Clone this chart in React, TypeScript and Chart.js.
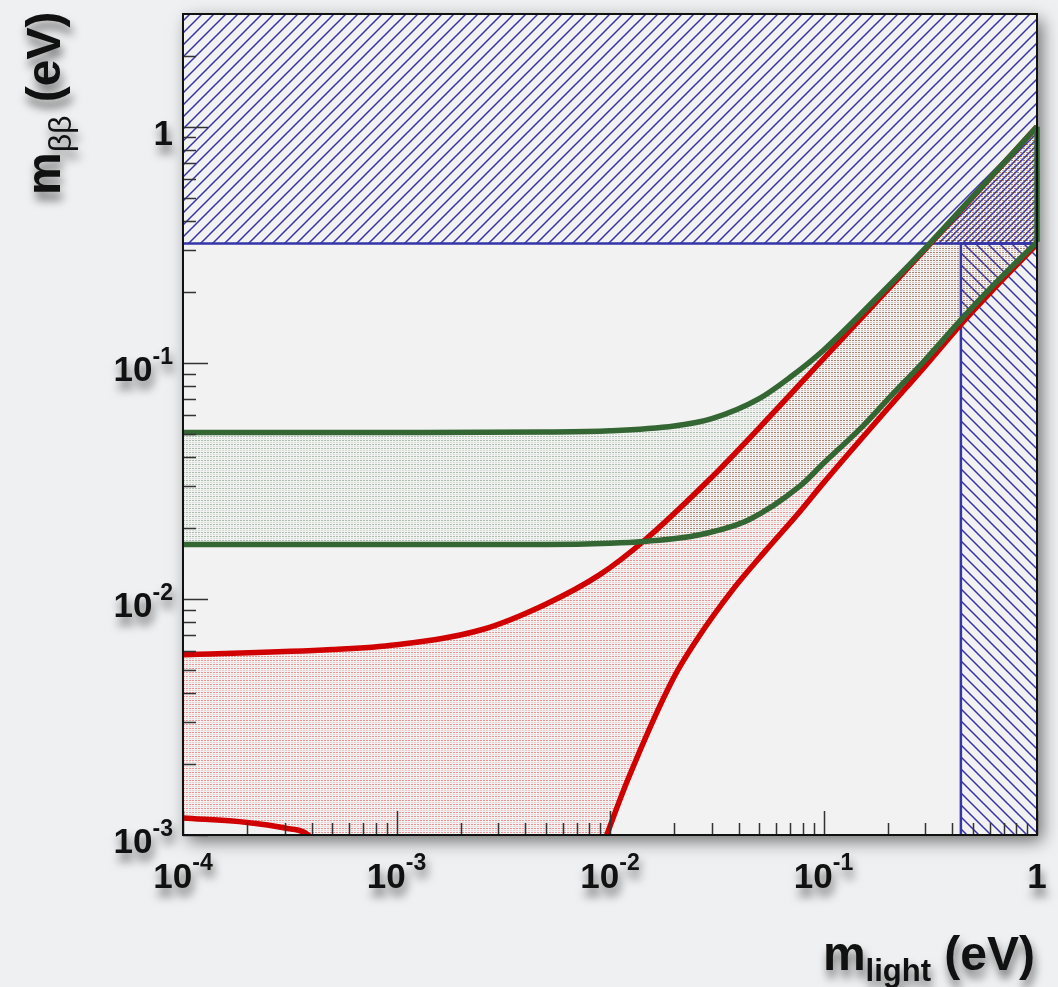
import React, { useEffect, useRef } from 'react';
import { Chart, registerables } from 'chart.js';

Chart.register(...registerables);

// ---------- axes ----------
const X_MIN = 1e-4;
const X_MAX = 1;
const Y_MIN = 1e-3;
const Y_MAX = 3;

const xTickValues = [1e-4, 1e-3, 1e-2, 1e-1, 1];
const xTickBases = ['10', '10', '10', '10', '1'];
const xTickExps = ['-4', '-3', '-2', '-1', ''];
const yTickValues = [1e-3, 1e-2, 1e-1, 1];
const yTickBases = ['10', '10', '10', '1'];
const yTickExps = ['-3', '-2', '-1', ''];

const xTitleParts = ['m', 'light', ' (eV)'];
const yTitleParts = ['m', 'ββ', ' (eV)'];

// ---------- excluded regions ----------
const mbbLimit = 0.32; // horizontal hatched band (above)
const mlightLimit = 0.44; // vertical hatched band (right)

// ---------- bands (m_light [eV], m_bb [eV]) ----------
const invertedUpper: [number, number][] = [
  [1e-4, 0.0507], [1e-3, 0.0507], [5e-3, 0.0509], [1e-2, 0.0515], [2e-2, 0.054],
  [3e-2, 0.058], [5e-2, 0.0705], [7e-2, 0.087], [0.1, 0.113], [0.2, 0.21],
  [0.3, 0.306], [0.5, 0.505], [1, 1.0],
];
const invertedLower: [number, number][] = [
  [1e-4, 0.017], [1e-3, 0.017], [5e-3, 0.017], [1e-2, 0.0172], [0.0143, 0.0175],
  [0.0263, 0.0187], [0.045, 0.0217], [0.0774, 0.03], [0.1, 0.0375], [0.15, 0.053],
  [0.2, 0.07], [0.3, 0.103], [0.44, 0.152], [0.6, 0.205], [1, 0.325],
];
const normalUpper: [number, number][] = [
  [1e-4, 0.0058], [5e-4, 0.0061], [1e-3, 0.0064], [2.5e-3, 0.0074], [5e-3, 0.0095],
  [9e-3, 0.0127], [0.0143, 0.0175], [0.0293, 0.0321], [0.05, 0.053], [0.1, 0.104],
  [0.2, 0.204], [0.3, 0.303], [0.5, 0.503], [1, 1.0],
];
const normalLower: [number, number][] = [
  [1e-4, 0.00118], [2e-4, 0.00113], [3e-4, 0.00107], [3.86e-4, 0.001], [4.5e-4, 0.0008],
  [5.5e-4, 0.0004], [7e-4, 0.00001], [5e-3, 0.00001], [0.0077, 0.00056], [0.00966, 0.001],
  [0.0121, 0.00171], [0.0197, 0.00457], [0.0255, 0.00672], [0.0376, 0.01095],
  [0.0542, 0.0162], [0.0774, 0.0234], [0.1, 0.031], [0.2, 0.064], [0.3, 0.097],
  [0.44, 0.1455], [0.6, 0.197], [1, 0.318],
];

const topBandEdge: [number, number][] = [[X_MIN, mbbLimit], [X_MAX, mbbLimit]];
const rightBandEdge: [number, number][] = [[mlightLimit, 1e-5], [mlightLimit, mbbLimit], [X_MAX, mbbLimit]];
const invertedEdge: [number, number][] = [
  [X_MAX, invertedLower[invertedLower.length - 1][1]],
  [X_MAX, invertedUpper[invertedUpper.length - 1][1]],
];

// ---------- style ----------
const PAGE_BG = '#eff0f1';
const PLOT_BG = '#f2f2f2';
const RED = '#d00000';
const GREEN = '#336633';
const BLUE = '#3535a8';
const FONT = '"Liberation Sans", Arial, Helvetica, sans-serif';

const pts = (a: [number, number][]) => a.map(([x, y]) => ({ x, y }));

function hatch(ctx: CanvasRenderingContext2D, dir: 1 | -1, offset: number) {
  const s = 12;
  const c = document.createElement('canvas');
  c.width = s;
  c.height = s;
  const g = c.getContext('2d')!;
  g.strokeStyle = BLUE;
  g.lineWidth = 1.5;
  g.beginPath();
  for (let k = -2; k <= 3; k++) {
    const cc = k * s + offset;
    const f = (x: number) => (dir === 1 ? cc - x : x - cc);
    g.moveTo(-3, f(-3));
    g.lineTo(s + 3, f(s + 3));
  }
  g.stroke();
  return ctx.createPattern(c, 'repeat')!;
}

function dots(ctx: CanvasRenderingContext2D, dark: string, light: string) {
  const c = document.createElement('canvas');
  c.width = 3;
  c.height = 4;
  const g = c.getContext('2d')!;
  g.fillStyle = dark;
  g.fillRect(0, 0, 2, 1);
  g.fillStyle = light;
  g.fillRect(0, 2, 2, 1);
  return ctx.createPattern(c, 'repeat')!;
}

function shadowed(ctx: CanvasRenderingContext2D, fn: () => void) {
  ctx.save();
  ctx.shadowColor = 'rgba(0,0,0,0.55)';
  ctx.shadowBlur = 10;
  ctx.shadowOffsetX = 2;
  ctx.shadowOffsetY = 8;
  fn();
  ctx.restore();
}

const decor = {
  id: 'decor',
  beforeDraw(chart: any) {
    const { ctx, chartArea: a, width, height } = chart;
    ctx.save();
    ctx.fillStyle = PAGE_BG;
    ctx.fillRect(0, 0, width, height);
    ctx.shadowColor = 'rgba(0,0,0,0.55)';
    ctx.shadowBlur = 16;
    ctx.shadowOffsetX = 5;
    ctx.shadowOffsetY = 6;
    ctx.fillStyle = PLOT_BG;
    ctx.fillRect(a.left, a.top, a.right - a.left, a.bottom - a.top);
    ctx.restore();
  },
  afterDatasetsDraw(chart: any) {
    const { ctx, chartArea: a } = chart;
    const xs = chart.scales.x;
    const ys = chart.scales.y;
    ctx.save();
    ctx.strokeStyle = '#333';
    ctx.lineWidth = 1.5;
    ctx.beginPath();
    // y ticks
    for (let d = -3; d <= 0; d++) {
      for (let k = 1; k <= 9; k++) {
        const v = k * Math.pow(10, d);
        if (v >= Y_MAX) continue;
        const py = Math.round(ys.getPixelForValue(v)) + 0.5;
        ctx.moveTo(a.left, py);
        ctx.lineTo(a.left + (k === 1 ? 25 : 13), py);
      }
    }
    ctx.moveTo(a.left, Math.round(ys.getPixelForValue(2)) + 0.5);
    ctx.lineTo(a.left + 13, Math.round(ys.getPixelForValue(2)) + 0.5);
    // x ticks
    for (let d = -4; d <= 0; d++) {
      for (let k = 1; k <= 9; k++) {
        const v = k * Math.pow(10, d);
        if (v > X_MAX) continue;
        const px = Math.round(xs.getPixelForValue(v)) + 0.5;
        ctx.moveTo(px, a.bottom);
        ctx.lineTo(px, a.bottom - (k === 1 ? 24 : 12));
      }
    }
    ctx.stroke();
    ctx.strokeStyle = '#111';
    ctx.lineWidth = 2;
    ctx.strokeRect(a.left, a.top, a.right - a.left, a.bottom - a.top);
    ctx.restore();
  },
  afterDraw(chart: any) {
    const { ctx, chartArea: a } = chart;
    const xs = chart.scales.x;
    const ys = chart.scales.y;
    const baseFont = `bold 35px ${FONT}`;
    const expFont = `bold 23px ${FONT}`;
    shadowed(ctx, () => {
      ctx.fillStyle = '#111';
      ctx.textBaseline = 'alphabetic';
      ctx.textAlign = 'left';
      xTickValues.forEach((v, i) => {
        const px = xs.getPixelForValue(v);
        ctx.font = baseFont;
        const wb = ctx.measureText(xTickBases[i]).width;
        ctx.font = expFont;
        const we = xTickExps[i] ? ctx.measureText(xTickExps[i]).width : 0;
        const x0 = px - (wb + we) / 2;
        ctx.font = baseFont;
        ctx.fillText(xTickBases[i], x0, a.bottom + 53);
        if (xTickExps[i]) {
          ctx.font = expFont;
          ctx.fillText(xTickExps[i], x0 + wb, a.bottom + 35);
        }
      });
      yTickValues.forEach((v, i) => {
        const py = ys.getPixelForValue(v);
        ctx.font = baseFont;
        const wb = ctx.measureText(yTickBases[i]).width;
        ctx.font = expFont;
        const we = yTickExps[i] ? ctx.measureText(yTickExps[i]).width : 0;
        const x0 = a.left - 10 - (wb + we);
        ctx.font = baseFont;
        ctx.fillText(yTickBases[i], x0, py + 18);
        if (yTickExps[i]) {
          ctx.font = expFont;
          ctx.fillText(yTickExps[i], x0 + wb, py + 1);
        }
      });

      const tFont = `bold 48px ${FONT}`;
      const subFont = (p: string) => (p === 'ββ' ? `32px ${FONT}` : `bold 31px ${FONT}`);
      const widths = (parts: string[]) => {
        ctx.font = tFont;
        const w0 = ctx.measureText(parts[0]).width;
        ctx.font = subFont(parts[1]);
        const w1 = ctx.measureText(parts[1]).width;
        ctx.font = tFont;
        const w2 = ctx.measureText(parts[2]).width;
        return [w0, w1, w2];
      };
      const drawTitle = (parts: string[], ws: number[]) => {
        ctx.font = tFont;
        ctx.fillText(parts[0], 0, 0);
        ctx.font = subFont(parts[1]);
        ctx.fillText(parts[1], ws[0], 11);
        ctx.font = tFont;
        ctx.fillText(parts[2], ws[0] + ws[1], 0);
      };
      // x title
      const wx = widths(xTitleParts);
      ctx.save();
      ctx.translate(a.right - 2 - (wx[0] + wx[1] + wx[2]), 970);
      drawTitle(xTitleParts, wx);
      ctx.restore();
      // y title
      const wy = widths(yTitleParts);
      ctx.save();
      ctx.translate(60, 195);
      ctx.rotate(-Math.PI / 2);
      drawTitle(yTitleParts, wy);
      ctx.restore();
    });
  },
};

export default function App() {
  const ref = useRef<HTMLCanvasElement>(null);
  useEffect(() => {
    const canvas = ref.current!;
    const ctx = canvas.getContext('2d')!;
    const hatchFwd = hatch(ctx, 1, 0);
    const hatchFwd2 = hatch(ctx, 1, 6);
    const hatchBack = hatch(ctx, -1, 0);
    const redDots = dots(ctx, 'rgba(225,20,20,0.42)', 'rgba(225,20,20,0.18)');
    const greenDots = dots(ctx, 'rgba(40,95,40,0.35)', 'rgba(40,95,40,0.15)');

    const chart = new Chart(ctx, {
      type: 'line',
      data: {
        datasets: [
          {
            data: pts(topBandEdge), borderColor: BLUE, borderWidth: 2.5,
            backgroundColor: hatchFwd, fill: 'end', order: 20,
          },
          {
            data: pts(rightBandEdge), borderColor: BLUE, borderWidth: 2.5,
            backgroundColor: hatchBack, fill: 'start', order: 19,
          },
          {
            data: pts(invertedUpper), borderColor: 'rgba(0,0,0,0)', borderWidth: 0,
            fill: { target: { value: mbbLimit }, above: hatchFwd2, below: 'rgba(0,0,0,0)' },
            cubicInterpolationMode: 'monotone', order: 18,
          },
          {
            data: pts(normalUpper), borderColor: RED, borderWidth: 5.5,
            backgroundColor: redDots, fill: '+1', cubicInterpolationMode: 'monotone', order: 10,
          },
          {
            data: pts(normalLower), borderColor: RED, borderWidth: 5.5,
            fill: false, cubicInterpolationMode: 'monotone', order: 9,
          },
          {
            data: pts(invertedUpper), borderColor: GREEN, borderWidth: 5.5,
            backgroundColor: greenDots, fill: '+1', cubicInterpolationMode: 'monotone', order: 8,
          },
          {
            data: pts(invertedLower), borderColor: GREEN, borderWidth: 5.5,
            fill: false, cubicInterpolationMode: 'monotone', order: 7,
          },
          {
            data: pts(invertedEdge), borderColor: GREEN, borderWidth: 5.5,
            fill: false, order: 1, clip: 6,
          },
        ] as any,
      },
      options: {
        animation: false,
        responsive: false,
        devicePixelRatio: 1,
        events: [],
        layout: { padding: { left: 183, top: 14, right: 21, bottom: 152 } },
        elements: { point: { radius: 0 }, line: { borderCapStyle: 'butt' } },
        scales: {
          x: { type: 'logarithmic', min: X_MIN, max: X_MAX, display: false },
          y: { type: 'logarithmic', min: Y_MIN, max: Y_MAX, display: false },
        },
        plugins: {
          legend: { display: false },
          tooltip: { enabled: false },
          filler: { drawTime: 'beforeDatasetsDraw' },
        } as any,
      },
      plugins: [decor],
    });
    return () => chart.destroy();
  }, []);

  return (
    <div style={{ position: 'fixed', left: 0, top: 0, width: 1058, height: 987, background: PAGE_BG }}>
      <canvas ref={ref} width={1058} height={987} style={{ display: 'block', width: 1058, height: 987 }} />
    </div>
  );
}
